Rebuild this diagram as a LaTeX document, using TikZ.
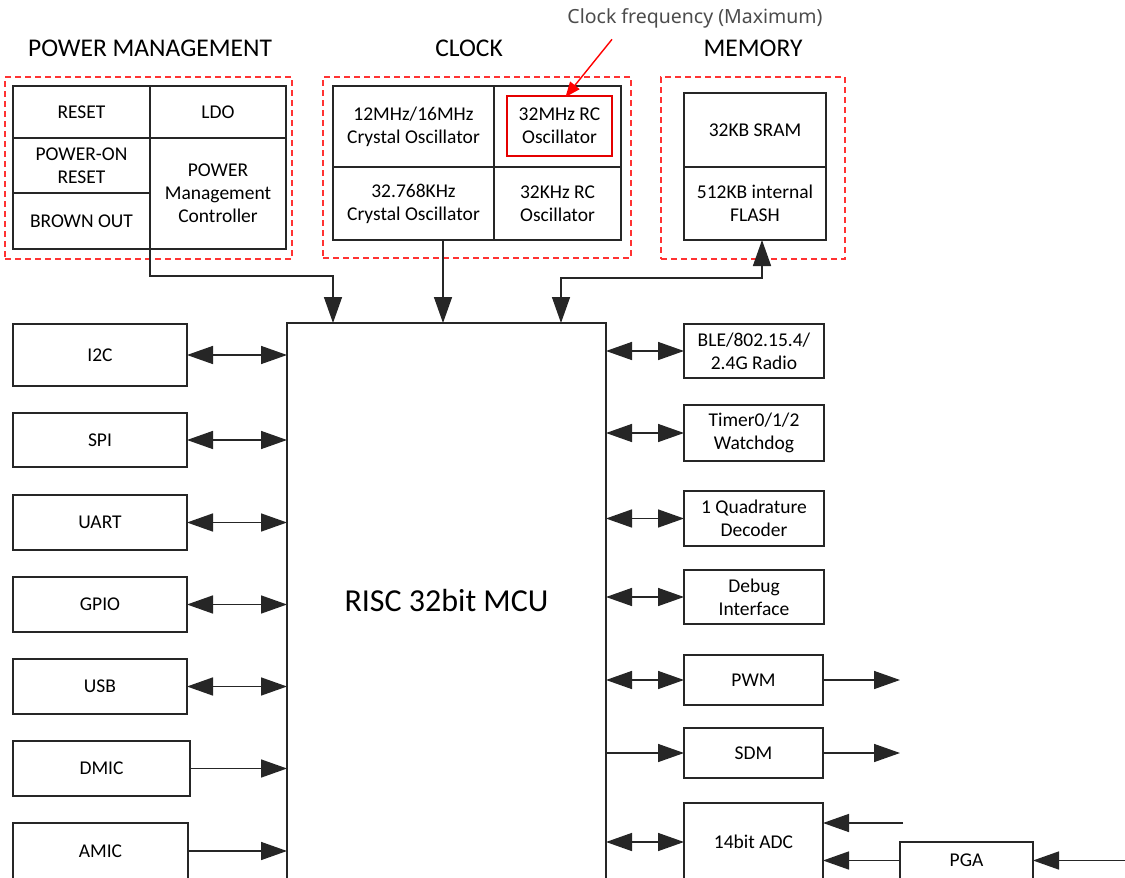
\documentclass[tikz,border=0pt]{standalone}
\usepackage{fontspec}
\setmainfont{Carlito}
\newfontfamily\notefont{Noto Sans}
\usetikzlibrary{arrows.meta,calc}
\begin{document}
\begin{tikzpicture}[x=1pt,y=-1pt,
 cell/.style n args={4}{minimum width={#3-#1}, minimum height={#4-#2}, at={({(#1+#3)/2},{(#2+#4)/2})}},
 box/.style={draw=black!85, line width=1.5pt, inner sep=0pt, outer sep=0pt, align=center, font=\fontsize{19.5}{23}\selectfont},
 grp/.style={draw=red!80!white, dash pattern=on 6pt off 4pt, line width=1.4pt, inner sep=0pt, outer sep=0pt},
 ttl/.style={font=\fontsize{25.5}{30}\selectfont},
 tri/.tip={Triangle[length=26pt,width=18pt]},
 con/.style={draw=black!85, line width=1.5pt},
]
\useasboundingbox (0,0) rectangle (1125,878);
\clip (0,0) rectangle (1125,878);
\fill[white] (0,0) rectangle (1125,878);

% titles
\node[ttl] (tpm) at (150,48) {POWER MANAGEMENT};
\node[ttl] (tck) at (469,48) {CLOCK};
\node[ttl] (tmem) at (753,48) {MEMORY};
\node[font=\notefont\fontsize{19.5}{22}\selectfont, text=black!70] (note) at (695,18) {Clock frequency (Maximum)};

% group frames
\node[grp, cell={5}{77}{292}{259}] (gpm) {};
\node[grp, cell={323}{77}{631}{258}] (gck) {};
\node[grp, cell={661}{77}{845}{259}] (gmem) {};

% power management
\node[box, cell={13}{86}{150}{138}] (reset) {RESET};
\node[box, cell={13}{138}{150}{193}] (por) {POWER-ON\\RESET};
\node[box, cell={13}{193}{150}{249}] (bo) {BROWN OUT};
\node[box, cell={150}{86}{286}{138}] (ldo) {LDO};
\node[box, cell={150}{138}{286}{249}] (pmc) {POWER\\Management\\Controller};

% clock
\node[box, cell={333}{86}{494}{167}] (xo1) {12MHz/16MHz\\Crystal Oscillator};
\node[box, cell={494}{86}{621}{167}] (rc1cell) {};
\node[box, draw=red!90!black, line width=2.6pt, cell={507}{96}{612}{156}] (rc1) {32MHz RC\\Oscillator};
\node[box, cell={333}{167}{494}{240}] (xo2) {32.768KHz\\Crystal Oscillator};
\node[box, cell={494}{167}{621}{240}] (rc2) {32KHz RC\\Oscillator};

% memory
\node[box, cell={684}{93}{826}{167}] (sram) {32KB SRAM};
\node[box, cell={684}{167}{826}{240}] (flash) {512KB internal\\FLASH};

% MCU
\node[box, cell={287}{323}{606}{879}, font=\fontsize{32}{38}\selectfont] (mcu) {RISC 32bit MCU};
\coordinate (mA) at (333,323);
\coordinate (mB) at (443,323);
\coordinate (mC) at (561,323);

% left peripherals
\node[box, cell={13}{324}{187}{386}] (i2c) {I2C};
\node[box, cell={13}{413}{187}{467}] (spi) {SPI};
\node[box, cell={13}{495}{187}{550}] (uart) {UART};
\node[box, cell={13}{577}{187}{632}] (gpio) {GPIO};
\node[box, cell={13}{659}{187}{714}] (usb) {USB};
\node[box, cell={13}{741}{190}{796}] (dmic) {DMIC};
\node[box, cell={13}{823}{188}{879}] (amic) {AMIC};

% right peripherals
\node[box, cell={684}{324}{824}{378}] (ble) {BLE/802.15.4/\\2.4G Radio};
\node[box, cell={684}{405}{824}{461}] (timer) {Timer0/1/2\\Watchdog};
\node[box, cell={684}{491}{824}{546}] (qdec) {1 Quadrature\\Decoder};
\node[box, cell={684}{570}{824}{624}] (dbg) {Debug\\Interface};
\node[box, cell={684}{655}{823}{705}] (pwm) {PWM};
\node[box, cell={684}{728}{823}{778}] (sdm) {SDM};
\node[box, cell={684}{803}{823}{881}] (adc) {14bit ADC};
\node[box, cell={900}{842}{1033}{879}] (pga) {PGA};

% annotation arrow
\draw[red, line width=1.4pt, -{Triangle[length=15pt,width=12pt]}] ($(note.south)+(-83,8)$) -- ([xshift=6pt,yshift=-1pt]rc1.north);

% top connectors
\draw[con, -tri] (pmc.south west) -- ++(0,27) -| (mA);
\draw[con, -tri] (mB |- xo2.south) -- (mB);
\draw[con, tri-tri] (mC) -- ++(0,-45) -| ([xshift=7pt]flash.south);

% left connectors
\foreach \n in {i2c,spi,uart,gpio,usb}
  \draw[con, tri-tri] (\n.east) -- (\n.east -| mcu.west);
\foreach \n in {dmic,amic}
  \draw[con, -tri] (\n.east) -- (\n.east -| mcu.west);

% right connectors
\foreach \n in {ble,timer,qdec,dbg,pwm,adc}
  \draw[con, tri-tri] (\n.west -| mcu.east) -- (\n.west);
\draw[con, -tri] (sdm.west -| mcu.east) -- (sdm.west);
\draw[con, -tri] (pwm.east) -- ++(77,0);
\draw[con, -tri] (sdm.east) -- ++(77,0);
\coordinate (adcin) at (903,823);
\draw[con, -tri] (adcin) -- (adcin -| adc.east);
\draw[con, -tri] (pga.west) -- (pga.west -| adc.east);
\coordinate (pgain) at (1125,860.5);
\draw[con, -tri] (pgain) -- (pga.east);
\end{tikzpicture}
\end{document}
